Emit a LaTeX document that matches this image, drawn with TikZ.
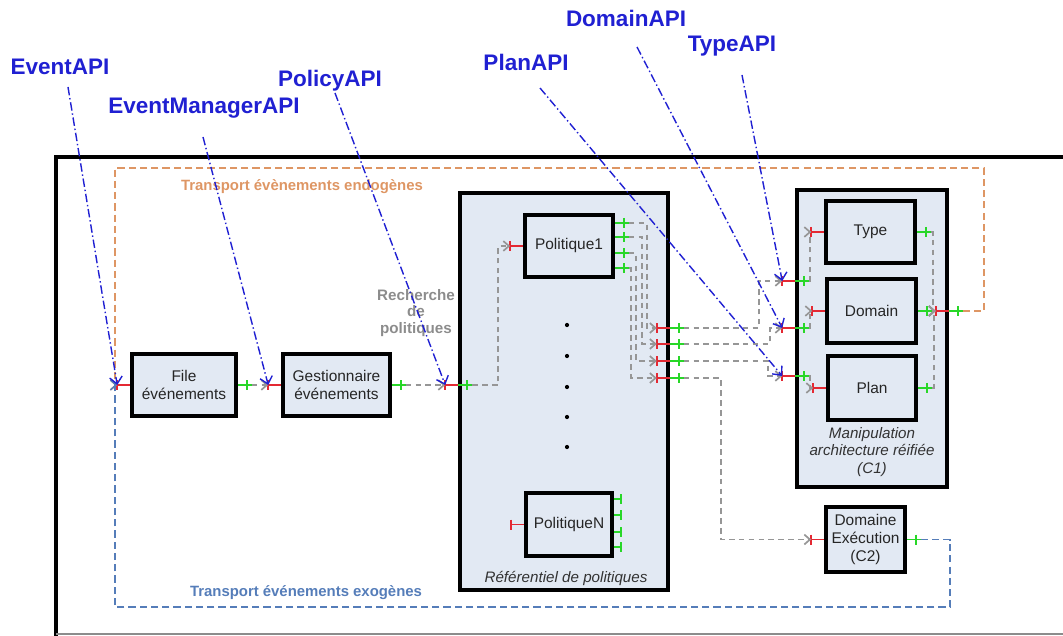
\documentclass[tikz,border=0pt]{standalone}
\usepackage{fontspec}
\setmainfont{Liberation Sans}
\usetikzlibrary{arrows.meta, positioning, calc}
\definecolor{boxfill}{RGB}{226,233,243}
\definecolor{apiblue}{RGB}{32,32,210}
\definecolor{linkgray}{RGB}{150,150,150}
\definecolor{portred}{RGB}{228,40,50}
\definecolor{portgreen}{RGB}{40,215,40}
\definecolor{endoorange}{RGB}{222,150,100}
\definecolor{exoblue}{RGB}{85,125,185}
\tikzset{
    comp/.style={rectangle, draw, line width=2.5pt, fill=boxfill, align=center, inner sep=0pt, text=black!85, font=\fontsize{11}{12.7}\selectfont},
    sublabel/.style={align=center, inner sep=0pt, text=black!80, font=\fontsize{10.8}{12.7}\selectfont\itshape},
    apilabel/.style={inner sep=0pt, text=apiblue, font=\fontsize{16}{18}\selectfont\bfseries},
    translabel/.style={inner sep=0pt, font=\fontsize{10.6}{12}\selectfont\bfseries},
    reqline/.style={portred, line width=1.3pt},
    provline/.style={portgreen, line width=1.3pt},
    link/.style={linkgray, line width=1.2pt, dash pattern=on 4pt off 3pt, -{Straight Barb[length=4pt, width=7pt]}},
    apilink/.style={apiblue, line width=1pt, dash pattern=on 6pt off 2pt on 1pt off 2pt, -{Straight Barb[length=5pt, width=9pt]}},
    endolink/.style={endoorange, line width=1.1pt, dash pattern=on 5pt off 3pt, -{Straight Barb[length=4pt, width=7pt]}},
    exolink/.style={exoblue, line width=1.1pt, dash pattern=on 5pt off 3pt, -{Straight Barb[length=4pt, width=7pt]}},
}
% required (red) and provided (green) interfaces: name, anchor, direction
\newcommand{\reqport}[3]{%
    \draw[reqline] (#2) -- ++({#3*13},0) coordinate (#1) ++(0,-5) -- ++(0,10);}
\newcommand{\provport}[3]{%
    \draw[provline] (#2) -- ++({#3*14},0) coordinate (#1);
    \draw[provline] (#2) ++({#3*9},-5) -- ++(0,10);}

\begin{document}
\begin{tikzpicture}[x=0.025cm, y=-0.025cm]
    \useasboundingbox (0,0) rectangle (1063,636);
    \draw[line width=2.4pt] (1075,157) -- (56,157) -- (56,640);
    \draw[black!45, line width=0.8pt] (56,634) -- (1063,634);

    \node[comp, minimum width=2.6cm, minimum height=1.55cm] (file) at (184,385) {File\\événements};
    \node[comp, minimum width=2.675cm, minimum height=1.55cm] (gest) at (336.5,385) {Gestionnaire\\événements};
    \node[comp, minimum width=5.2cm, minimum height=9.925cm] (ref) at (564,391.5) {};
    \node[comp, minimum width=2.2cm, minimum height=1.55cm] (pol1) at (569,246) {Politique1};
    \node[comp, minimum width=2.15cm, minimum height=1.575cm] (poln) at (569,524.5) {PolitiqueN};
    \node[sublabel] (reflabel) at (566,578) {Référentiel de politiques};
    \node[comp, minimum width=3.75cm, minimum height=7.425cm] (c1) at (872,338.5) {};
    \node[comp, minimum width=2.225cm, minimum height=1.55cm] (type) at (870.5,232) {Type};
    \node[comp, minimum width=2.225cm, minimum height=1.6cm] (domain) at (871.5,311) {Domain};
    \node[comp, minimum width=2.2cm, minimum height=1.6cm] (plan) at (872,388) {Plan};
    \node[sublabel] (c1label) at (872,452) {Manipulation\\architecture réifiée\\(C1)};
    \node[comp, minimum width=1.975cm, minimum height=1.625cm] (c2) at (865.5,539.5) {Domaine\\Exécution\\(C2)};
    \node[translabel, text=black!45, align=center, font=\fontsize{10.8}{11.5}\selectfont\bfseries] (search) at (416,313) {Recherche\\de\\politiques};
    \foreach \yy in {325,356,387,417,447}
        \fill (567,\yy) circle[radius=1.5pt];

    \reqport{fileIn}{file.west}{-1}
    \provport{fileOut}{file.east}{1}
    \reqport{gestIn}{gest.west}{-1}
    \provport{gestOut}{gest.east}{1}
    \reqport{refIn}{ref.west |- file.east}{-1}
    \provport{refInner}{ref.west |- file.east}{1}
    \reqport{pol1In}{pol1.west}{-1}
    \foreach \i/\yy in {1/223,2/237,3/253,4/268}
        {\provport{pol1Out\i}{pol1.east |- 0,\yy}{1}}
    \foreach \i/\yy in {1/328,2/344,3/361,4/378}
        {\reqport{refBack\i}{ref.east |- 0,\yy}{-1}
         \provport{refOut\i}{ref.east |- 0,\yy}{1}}
    \reqport{polnIn}{poln.west}{-1}
    \foreach \yy in {499,515,532,547}
        \draw[provline] (poln.east |- 0,\yy) -- ++(7,0) ++(0,-5) -- ++(0,10);
    \foreach \i/\yy in {1/281,2/328,3/376}
        {\reqport{c1In\i}{c1.west |- 0,\yy}{-1}
         \provport{c1Inner\i}{c1.west |- 0,\yy}{1}}
    \reqport{typeIn}{type.west}{-1}
    \provport{typeOut}{type.east}{1}
    \reqport{domainIn}{domain.west}{-1}
    \provport{domainOut}{domain.east}{1}
    \reqport{planIn}{plan.west}{-1}
    \provport{planOut}{plan.east}{1}
    \reqport{c1Back}{c1.east |- domain.east}{-1}
    \provport{c1Out}{c1.east |- domain.east}{1}
    \reqport{c2In}{c2.west}{-1}
    \provport{c2Out}{c2.east}{1}

    \draw[link] (fileOut) -- (gestIn);
    \draw[link] (gestOut) -- (refIn);
    \draw[link] (refInner) -- ++(26,0) |- (pol1In);
    \draw[link] (pol1Out1) -- ++(18,0) |- (refBack1);
    \draw[link] (pol1Out2) -- ++(13,0) |- (refBack2);
    \draw[link] (pol1Out3) -- ++(7,0) |- (refBack3);
    \draw[link] (pol1Out4) -- ++(2,0) |- (refBack4);
    \draw[link] (refOut1) -- ++(75,0) |- (c1In1);
    \draw[link] (refOut2) -- ++(86,0) |- (c1In2);
    \draw[link] (refOut3) -- ++(84,0) |- (c1In3);
    \draw[link] (refOut4) -- ++(37,0) |- (c2In);
    \draw[link] (c1Inner1) -- ++(1,0) |- (typeIn);
    \draw[link] (c1Inner2) -- ++(1,0) |- (domainIn);
    \draw[link] (c1Inner3) -- ++(1,0) |- (planIn);
    \draw[link] (typeOut) -- ++(2,0) |- (c1Back);
    \draw[link] (planOut) -- ++(2,0) |- (c1Back);
    \draw[link] (domainOut) -- (c1Back);

    \coordinate (endoNE) at (984,168);
    \coordinate (endoNW) at (115,168);
    \coordinate (exoSE) at (950,607);
    \coordinate (exoSW) at (115,607);
    \draw[endolink] (c1Out) -| (endoNE) -- (endoNW) |- (fileIn);
    \draw[exolink] (c2Out) -| (exoSE) -- (exoSW) |- (fileIn);
    \node[translabel, text=endoorange] (endolabel) at (302,187) {Transport évènements endogènes};
    \node[translabel, text=exoblue] (exolabel) at (306,593) {Transport événements exogènes};

    \node[apilabel] (eventapi) at (60,67) {EventAPI};
    \node[apilabel] (evmanapi) at (204,108) {EventManagerAPI};
    \node[apilabel] (policyapi) at (330,81) {PolicyAPI};
    \node[apilabel] (planapi) at (526,62) {PlanAPI};
    \node[apilabel] (domainapi) at (626,18) {DomainAPI};
    \node[apilabel] (typeapi) at (732,46) {TypeAPI};
    \coordinate (eventapiTail) at (68,87);
    \coordinate (evmanapiTail) at (203,137);
    \coordinate (policyapiTail) at (335,93);
    \coordinate (planapiTail) at (540,88);
    \coordinate (domainapiTail) at (637,47);
    \coordinate (typeapiTail) at (742,75);
    \draw[apilink] (eventapiTail) -- (fileIn);
    \draw[apilink] (evmanapiTail) -- (gestIn);
    \draw[apilink] (policyapiTail) -- (refIn);
    \draw[apilink] (planapiTail) -- (c1In3);
    \draw[apilink] (domainapiTail) -- (c1In2);
    \draw[apilink] (typeapiTail) -- (c1In1);
\end{tikzpicture}
\end{document}
